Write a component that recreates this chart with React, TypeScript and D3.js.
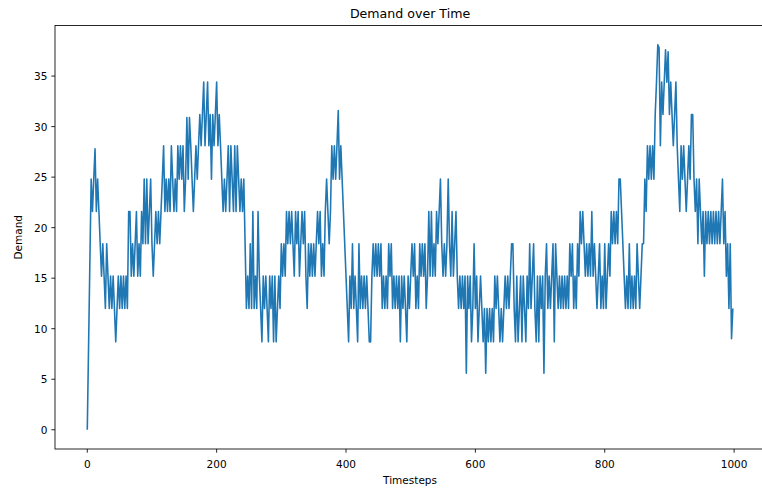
import React from "react";
import * as d3 from "d3";

// First reading at timestep 0
const startTimestep = 0;
const startDemand = 0;
// Then demand read every 2 timesteps, from timestep 6 to 998 (one row = 50 timesteps)
const sampleFrom = 6;
const sampleStep = 2;
const demand: number[] = [
  24.8, 21.6, 24.8, 27.8, 21.6, 24.8, 21.6, 18.4, 15.2, 18.4, 15.2, 12.0, 18.4, 15.2, 12.0, 15.2, 12.0, 15.2, 12.0, 8.7, 12.0, 15.2,
  12.0, 15.2, 12.0, 15.2, 12.0, 15.2, 12.0, 21.6, 21.6, 15.2, 18.4, 15.2, 18.4, 21.6, 15.2, 18.4, 15.2, 21.6, 18.4, 24.8, 18.4, 24.8, 18.4, 21.6, 24.8,
  18.4, 15.2, 18.4, 21.6, 18.4, 21.6, 18.4, 21.6, 24.8, 28.1, 21.6, 24.8, 21.6, 24.8, 21.6, 28.1, 24.8, 21.6, 24.8, 21.6, 28.1, 24.8, 28.1, 24.8, 28.1,
  21.6, 24.8, 30.9, 24.8, 30.9, 28.1, 24.8, 21.6, 24.8, 28.1, 24.8, 28.1, 31.2, 28.1, 31.2, 34.4, 28.1, 31.2, 34.4, 28.1, 31.2, 24.8, 31.2, 28.1, 31.2,
  34.4, 28.1, 31.2, 28.1, 24.8, 21.6, 24.8, 21.6, 24.8, 28.1, 21.6, 28.1, 24.8, 21.6, 28.1, 21.6, 28.1, 24.8, 21.6, 24.8, 21.6, 24.8, 18.4, 12.0, 15.2,
  12.0, 18.4, 12.0, 21.6, 12.0, 15.2, 12.0, 21.6, 15.2, 12.0, 8.7, 15.2, 12.0, 15.2, 12.0, 8.7, 15.2, 12.0, 15.2, 8.7, 15.2, 8.7, 12.0, 15.2, 12.0,
  18.4, 15.2, 18.4, 15.2, 21.6, 18.4, 21.6, 18.4, 21.6, 18.4, 15.2, 21.6, 18.4, 21.6, 15.2, 18.4, 21.6, 18.4, 21.6, 15.2, 12.0, 18.4, 15.2, 18.4, 15.2,
  18.4, 15.2, 18.4, 21.6, 18.4, 21.6, 15.2, 18.4, 15.2, 21.6, 24.8, 21.6, 18.4, 21.6, 28.1, 24.8, 28.1, 24.8, 28.1, 31.6, 24.8, 28.1, 24.8, 21.6, 18.4,
  15.2, 12.0, 8.7, 15.2, 12.0, 18.4, 12.0, 15.2, 12.0, 8.7, 18.4, 12.0, 15.2, 12.0, 15.2, 12.0, 15.2, 12.0, 8.7, 8.7, 15.2, 18.4, 15.2, 18.4, 15.2,
  18.4, 15.2, 18.4, 12.0, 15.2, 12.0, 15.2, 12.0, 18.4, 15.2, 18.4, 12.0, 15.2, 12.0, 15.2, 12.0, 15.2, 8.7, 15.2, 12.0, 15.2, 12.0, 8.7, 15.2, 12.0,
  15.2, 18.4, 15.2, 18.4, 12.0, 15.2, 12.0, 18.4, 15.2, 18.4, 15.2, 18.4, 12.0, 15.2, 21.6, 15.2, 21.6, 15.2, 18.4, 15.2, 21.6, 18.4, 21.6, 24.8, 18.4,
  15.2, 18.4, 15.2, 18.4, 24.8, 18.4, 15.2, 21.6, 15.2, 18.4, 21.6, 15.2, 12.0, 15.2, 12.0, 15.2, 12.0, 15.2, 5.6, 15.2, 12.0, 15.2, 8.7, 12.0, 18.4,
  12.0, 15.2, 8.7, 12.0, 15.2, 12.0, 8.7, 12.0, 5.6, 12.0, 8.7, 12.0, 8.7, 12.0, 8.7, 15.2, 12.0, 15.2, 12.0, 8.7, 12.0, 8.7, 12.0, 15.2, 12.0,
  15.2, 12.0, 15.2, 18.4, 18.4, 12.0, 8.7, 15.2, 8.7, 12.0, 15.2, 8.7, 15.2, 12.0, 8.7, 15.2, 12.0, 18.4, 12.0, 15.2, 18.4, 12.0, 8.7, 15.2, 8.7,
  15.2, 12.0, 15.2, 5.6, 15.2, 18.4, 12.0, 15.2, 12.0, 15.2, 18.4, 8.7, 18.4, 15.2, 12.0, 15.2, 12.0, 15.2, 12.0, 15.2, 12.0, 15.2, 12.0, 18.4, 15.2,
  18.4, 12.0, 15.2, 12.0, 18.4, 15.2, 21.6, 18.4, 21.6, 18.4, 15.2, 18.4, 15.2, 18.4, 15.2, 21.6, 15.2, 18.4, 15.2, 12.0, 15.2, 18.4, 12.0, 15.2, 12.0,
  18.4, 12.0, 15.2, 18.4, 15.2, 21.6, 18.4, 21.6, 18.4, 21.6, 18.4, 24.8, 24.8, 21.6, 18.4, 15.2, 12.0, 15.2, 12.0, 18.4, 12.0, 15.2, 12.0, 15.2, 12.0,
  18.4, 15.2, 12.0, 15.2, 18.4, 18.4, 24.8, 21.6, 28.1, 24.8, 28.1, 24.8, 28.1, 24.8, 31.2, 34.4, 38.1, 37.8, 28.1, 34.4, 31.2, 34.4, 37.6, 34.4, 37.4,
  31.2, 34.4, 31.2, 28.1, 31.2, 34.4, 28.1, 24.8, 21.6, 28.1, 24.8, 28.1, 24.8, 21.6, 24.8, 28.1, 24.8, 31.2, 31.2, 24.8, 21.6, 24.8, 18.4, 24.8, 21.6,
  18.4, 21.6, 15.2, 21.6, 18.4, 21.6, 18.4, 21.6, 18.4, 21.6, 18.4, 21.6, 18.4, 21.6, 18.4, 21.6, 24.8, 18.4, 21.6, 15.2, 18.4, 12.0, 18.4, 9.0, 12.0,
];
const xTicks: number[] = [0, 200, 400, 600, 800, 1000];
const yTicks: number[] = [0, 5, 10, 15, 20, 25, 30, 35];

const W = 762;
const H = 493;
const left = 55;
const right = 765.1;
const top = 25.5;
const bottom = 449;
const font = "DejaVu Sans, sans-serif";

type Pt = { t: number; v: number };

export default function App() {
  const pts: Pt[] = [
    { t: startTimestep, v: startDemand },
    ...demand.map((v, i) => ({ t: sampleFrom + i * sampleStep, v })),
  ];
  const [tMin, tMax] = d3.extent(pts, (d) => d.t) as [number, number];
  const [vMin, vMax] = d3.extent(pts, (d) => d.v) as [number, number];
  const mx = (tMax - tMin) * 0.05;
  const my = (vMax - vMin) * 0.05;
  const x = d3.scaleLinear().domain([tMin - mx, tMax + mx]).range([left, right]);
  const y = d3.scaleLinear().domain([vMin - my, vMax + my]).range([bottom, top]);
  const line = d3
    .line<Pt>()
    .x((d) => x(d.t))
    .y((d) => y(d.v));

  return (
    <svg
      width={W}
      height={H}
      style={{ position: "absolute", left: 0, top: 0, background: "#fff" }}
      fontFamily={font}
    >
      <rect x={0} y={0} width={W} height={H} fill="#fff" />
      <defs>
        <clipPath id="plotclip">
          <rect x={left} y={top} width={right - left} height={bottom - top} />
        </clipPath>
      </defs>
      <path
        d={line(pts) || ""}
        fill="none"
        stroke="#1f77b4"
        strokeWidth={1.58}
        strokeLinejoin="round"
        clipPath="url(#plotclip)"
      />
      <rect
        x={left}
        y={top}
        width={right - left}
        height={bottom - top}
        fill="none"
        stroke="#000"
        strokeWidth={0.85}
      />
      {xTicks.map((t) => (
        <g key={"x" + t}>
          <line x1={x(t)} x2={x(t)} y1={bottom} y2={bottom + 3.7} stroke="#000" strokeWidth={0.85} />
          <text x={x(t)} y={468} textAnchor="middle" fontSize={10.5} fill="#000">
            {t}
          </text>
        </g>
      ))}
      {yTicks.map((v) => (
        <g key={"y" + v}>
          <line x1={left - 3.7} x2={left} y1={y(v)} y2={y(v)} stroke="#000" strokeWidth={0.85} />
          <text x={left - 7.6} y={y(v) + 3.9} textAnchor="end" fontSize={10.5} fill="#000">
            {v}
          </text>
        </g>
      ))}
      <text x={(left + right) / 2} y={17.5} textAnchor="middle" fontSize={12.6} fill="#000">
        Demand over Time
      </text>
      <text x={(left + right) / 2} y={484} textAnchor="middle" fontSize={10.5} fill="#000">
        Timesteps
      </text>
      <text
        transform={`translate(22, ${(top + bottom) / 2}) rotate(-90)`}
        textAnchor="middle"
        fontSize={10.5}
        fill="#000"
      >
        Demand
      </text>
    </svg>
  );
}
